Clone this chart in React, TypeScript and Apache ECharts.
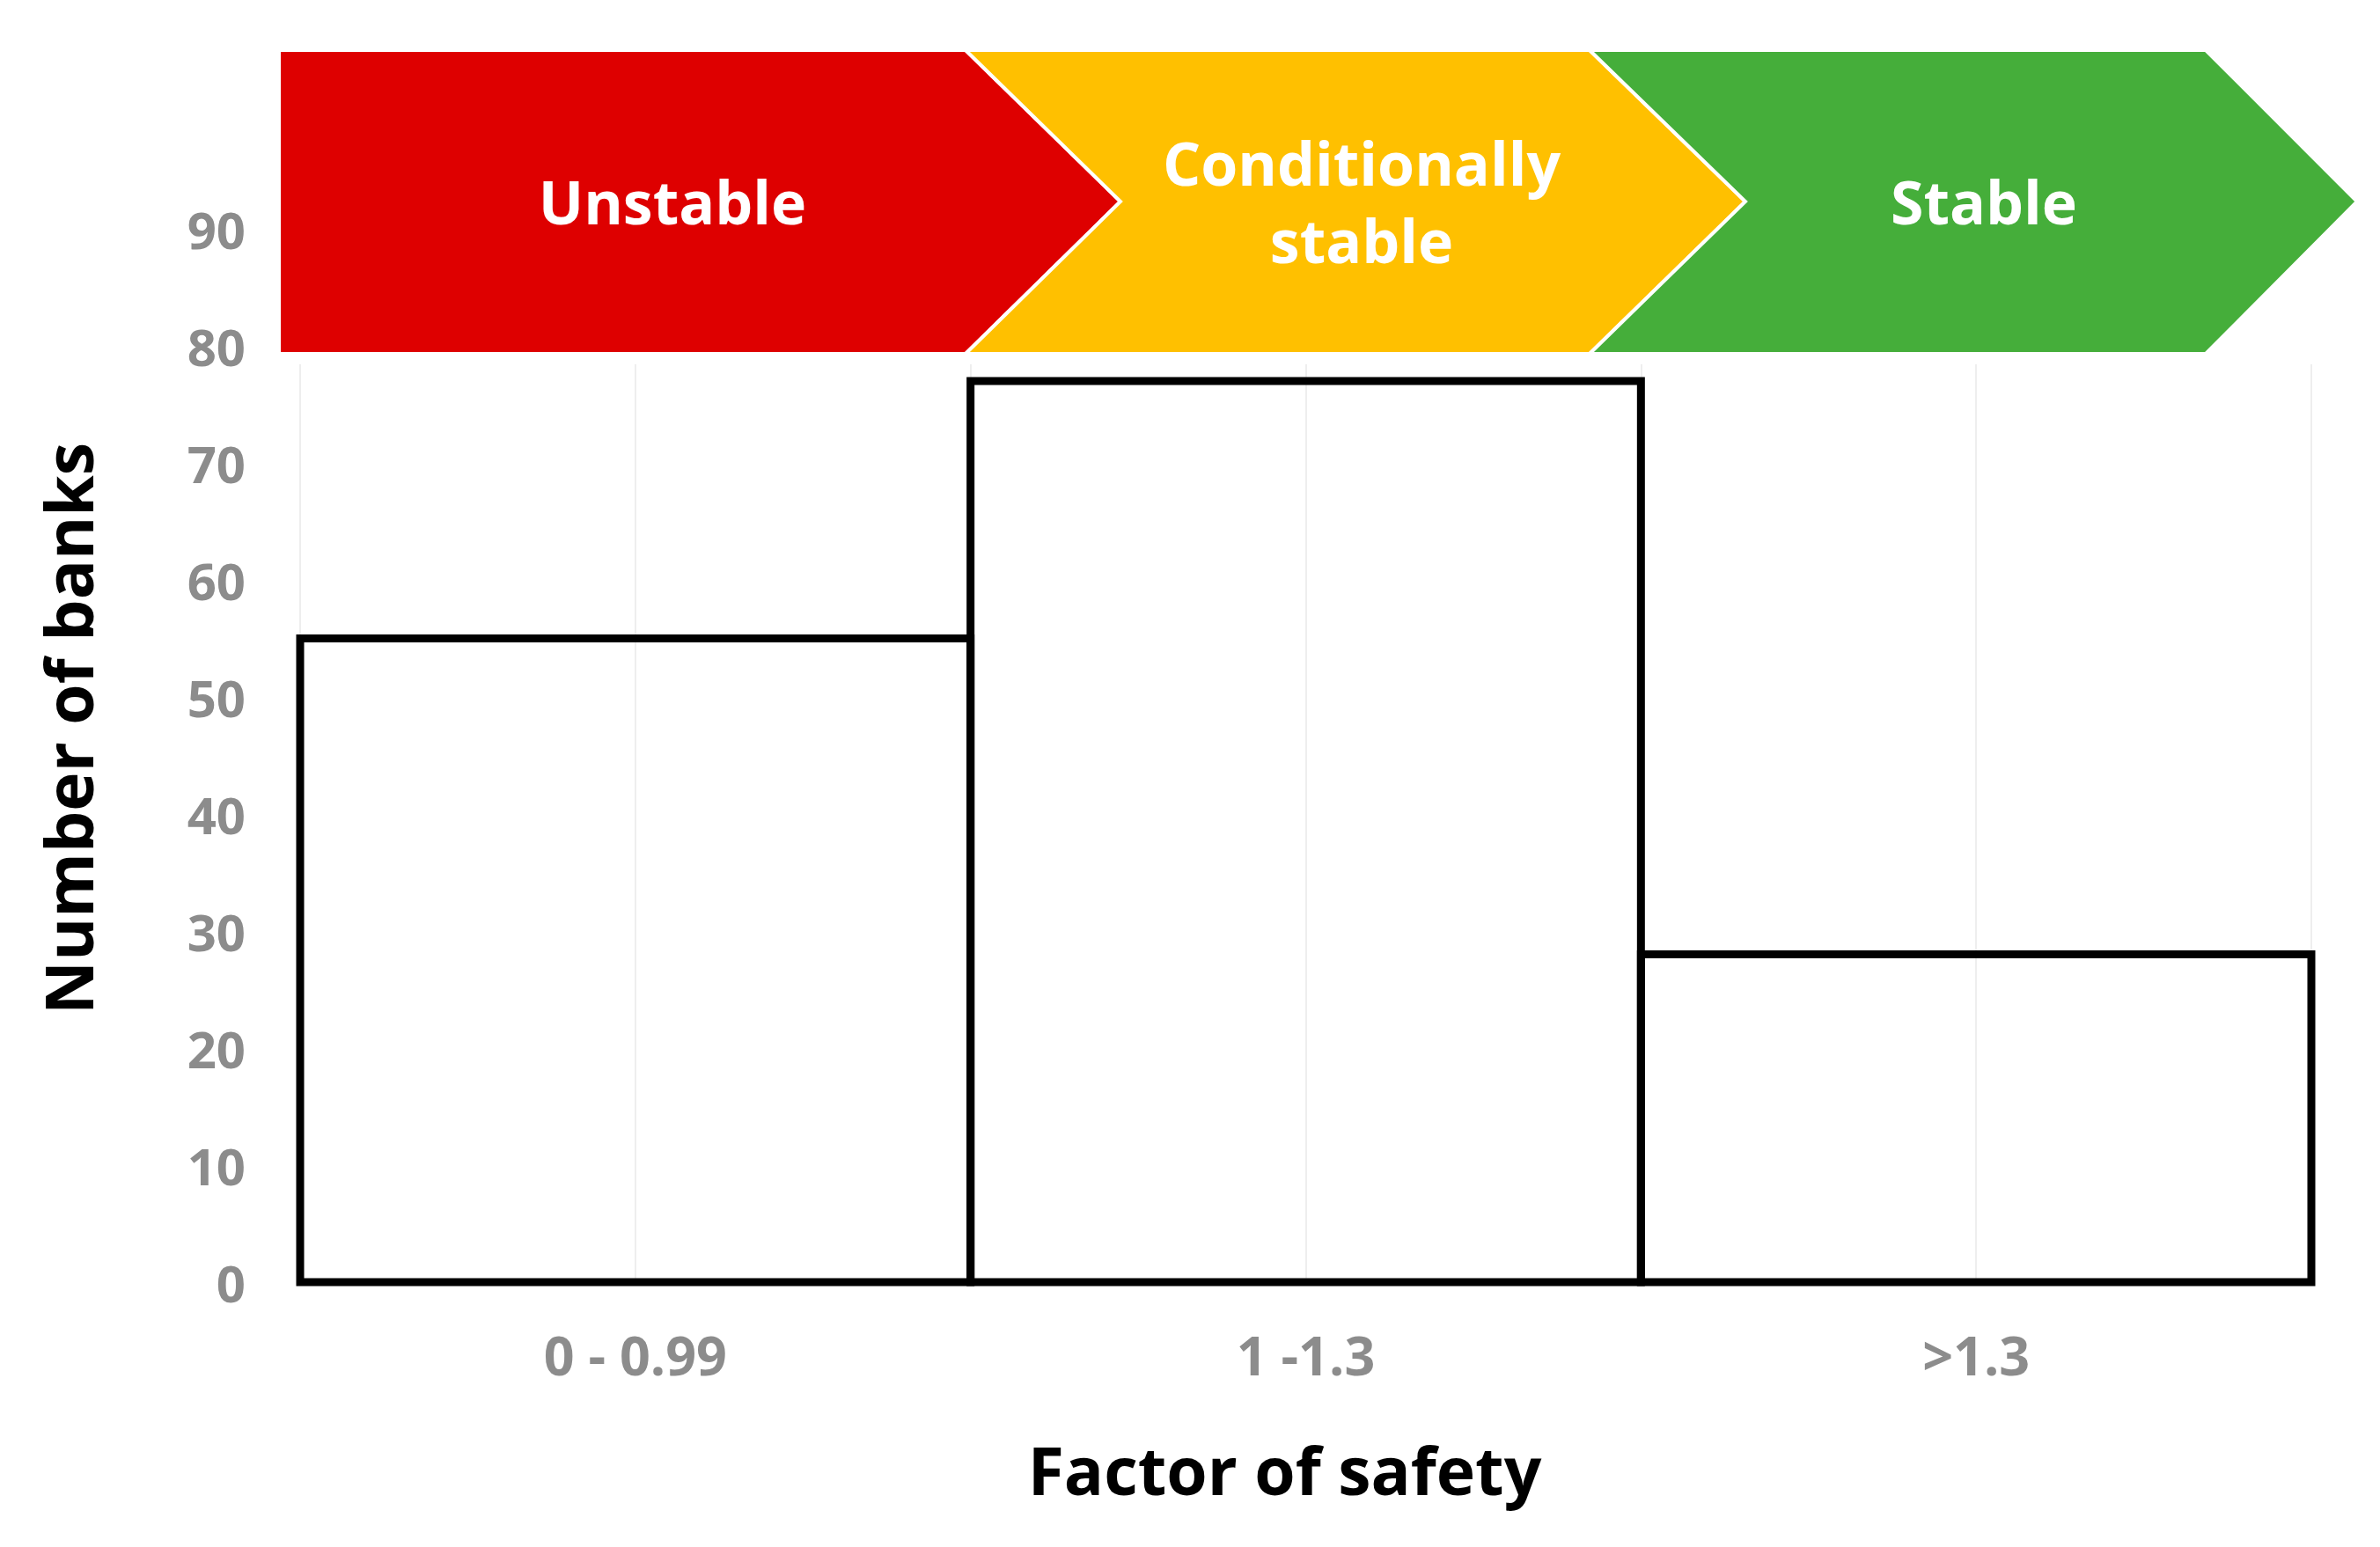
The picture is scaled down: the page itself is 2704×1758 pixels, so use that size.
import React, { useEffect, useRef } from "react";
import * as echarts from "echarts";

// ---- Data ----
const categories = ["0 - 0.99", "1 -1.3", ">1.3"];
const bankCounts = [55, 77, 28];
const yMin = 0;
const yMax = 100;
const yInterval = 10;
const zoneLabels = ["Unstable", "Conditionally\nstable", "Stable"];
const zoneColors = ["#DE0000", "#FFC000", "#45AE3A"];
const xTitle = "Factor of safety";
const yTitle = "Number of banks";

// ---- Layout (pixels) ----
const W = 2704;
const H = 1758;
const FONT = "'Open Sans', 'Noto Sans', sans-serif";
const BANNER_TOP = 57;
const BANNER_BOTTOM = 402;
const BANNER_MID = 229;
// chevron x positions: left edge, notch point, body end, tip
const chevrons = [
  { left: 317, notch: 317, body: 1097, tip: 1273 },
  { left: 1097, notch: 1273, body: 1806, tip: 1983 },
  { left: 1806, notch: 1983, body: 2506, tip: 2678 },
];
const labelPos = [
  { x: 764, y: 228 },
  { x: 1547, y: 228 },
  { x: 2254, y: 228 },
];

export default function App() {
  const ref = useRef<HTMLDivElement>(null);

  useEffect(() => {
    if (!ref.current) return;
    const chart = echarts.init(ref.current, undefined, { renderer: "svg" });

    const graphics: any[] = [
      // white backdrop so grid lines stop at the banner's lower edge
      {
        type: "rect",
        z: 99,
        shape: { x: 310, y: 0, width: W - 310, height: BANNER_BOTTOM + 12 },
        style: { fill: "#ffffff" },
      },
    ];
    chevrons.forEach((c, i) => {
      graphics.push({
        type: "polygon",
        z: 100,
        shape: {
          points: [
            [c.left, BANNER_TOP],
            [c.body, BANNER_TOP],
            [c.tip, BANNER_MID],
            [c.body, BANNER_BOTTOM],
            [c.left, BANNER_BOTTOM],
            [c.notch, BANNER_MID],
          ],
        },
        style: { fill: zoneColors[i], stroke: "#ffffff", lineWidth: 4 },
      });
      graphics.push({
        type: "text",
        z: 101,
        x: labelPos[i].x,
        y: labelPos[i].y,
        style: {
          text: zoneLabels[i],
          fill: "#ffffff",
          font: `bold 68px ${FONT}`,
          textAlign: "center",
          textVerticalAlign: "middle",
          lineHeight: 88,
        },
      });
    });

    const option: any = {
      animation: false,
      backgroundColor: "#ffffff",
      grid: { left: 341, right: 78, top: 127, bottom: 301, containLabel: false },
      xAxis: [
        {
          type: "category",
          data: categories,
          axisLine: { show: false },
          axisTick: { show: false },
          splitLine: { show: false },
          axisLabel: {
            color: "#8c8c8c",
            fontSize: 61,
            fontWeight: "bold",
            fontFamily: FONT,
            margin: 52,
          },
          name: xTitle,
          nameLocation: "middle",
          nameGap: 175,
          nameTextStyle: {
            color: "#000000",
            fontSize: 75,
            fontWeight: "bold",
            fontFamily: FONT,
            padding: [0, 48, 0, 0],
          },
        },
        {
          type: "value",
          min: 0,
          max: categories.length,
          interval: 0.5,
          position: "top",
          axisLine: { show: false },
          axisTick: { show: false },
          axisLabel: { show: false },
          splitLine: { show: true, lineStyle: { color: "#eeeeee", width: 2 } },
        },
      ],
      yAxis: {
        type: "value",
        min: yMin,
        max: yMax,
        interval: yInterval,
        axisLine: { show: false },
        axisTick: { show: false },
        splitLine: { show: false },
        axisLabel: {
          showMaxLabel: false,
          color: "#8c8c8c",
          fontSize: 58,
          fontWeight: "bold",
          fontFamily: FONT,
          margin: 62,
        },
        name: yTitle,
        nameLocation: "middle",
        nameGap: 227,
        nameTextStyle: {
          color: "#000000",
          fontSize: 75,
          fontWeight: "bold",
          fontFamily: FONT,
          padding: [0, 72, 0, 0],
        },
      },
      series: [
        {
          type: "custom",
          xAxisIndex: 0,
          yAxisIndex: 0,
          z: 5,
          data: bankCounts.map((v, i) => [i, v]),
          encode: { x: 0, y: 1 },
          renderItem: (params: any, api: any) => {
            const idx = api.value(0);
            const val = api.value(1);
            const top = api.coord([idx, val]);
            const base = api.coord([idx, 0]);
            const w = api.size([1, 0])[0];
            return {
              type: "rect",
              shape: {
                x: top[0] - w / 2,
                y: top[1],
                width: w,
                height: base[1] - top[1],
              },
              style: {
                fill: "none",
                stroke: "#000000",
                lineWidth: 9,
                lineJoin: "miter",
              },
            };
          },
        },
      ],
      graphic: graphics,
    };

    chart.setOption(option);
    return () => chart.dispose();
  }, []);

  return (
    <div
      ref={ref}
      style={{ position: "fixed", left: 0, top: 0, width: W, height: H }}
    />
  );
}
